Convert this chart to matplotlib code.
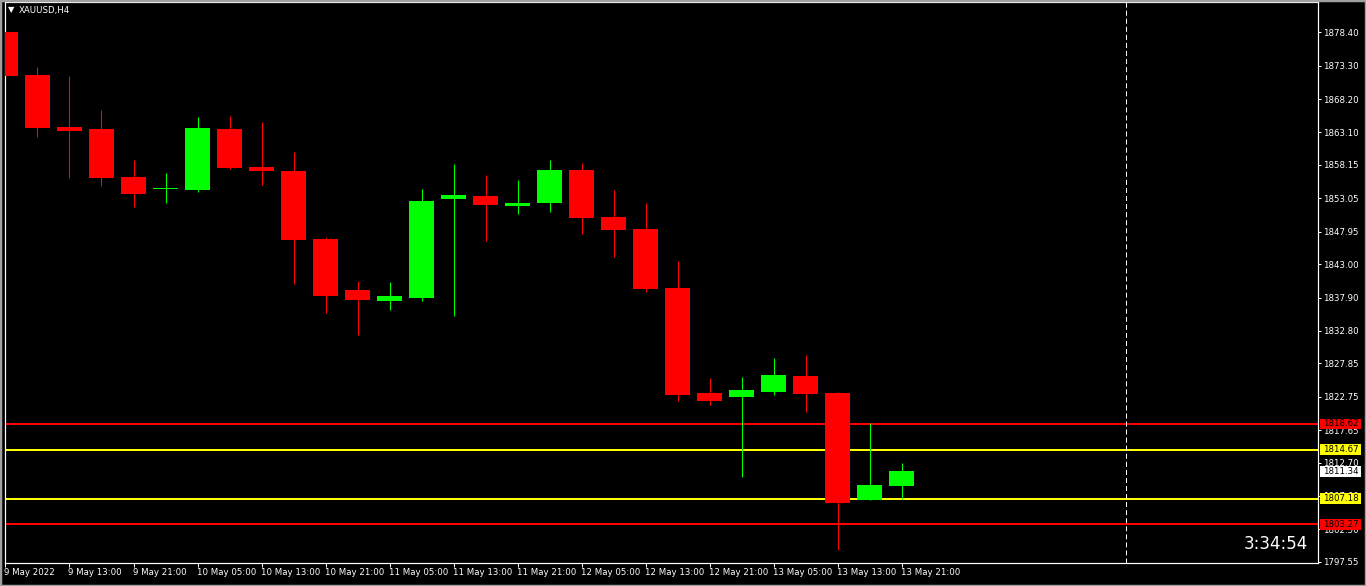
import matplotlib
matplotlib.use("Agg")
import matplotlib.pyplot as plt
import matplotlib.transforms as mtransforms
from matplotlib.patches import Rectangle
import numpy as np

# --- XAUUSD H4 candles (open, high, low, close)
opens  = [1878.45, 1871.88, 1863.94, 1863.63, 1856.30, 1854.40, 1854.36, 1863.63,
          1857.83, 1857.22, 1846.83, 1839.04, 1837.41, 1837.87, 1852.99, 1853.40,
          1851.92, 1852.38, 1857.37, 1850.19, 1848.36, 1839.40, 1823.31, 1822.75,
          1823.47, 1825.91, 1823.31, 1806.97, 1809.11]
highs  = [1878.75, 1873.10, 1871.73, 1866.53, 1858.90, 1856.91, 1865.46, 1865.62,
          1864.70, 1860.12, 1847.09, 1840.42, 1840.27, 1854.47, 1858.29, 1856.61,
          1855.84, 1858.90, 1858.44, 1854.32, 1852.33, 1843.47, 1825.61, 1825.76,
          1828.66, 1829.12, 1823.40, 1818.73, 1812.62]
lows   = [1870.70, 1862.46, 1856.19, 1854.97, 1851.77, 1852.38, 1854.06, 1857.52,
          1855.13, 1840.01, 1835.58, 1832.17, 1836.04, 1837.41, 1835.12, 1846.57,
          1850.70, 1851.00, 1847.64, 1844.13, 1838.78, 1822.14, 1821.53, 1810.49,
          1823.01, 1820.41, 1799.34, 1806.90, 1807.13]
closes = [1871.77, 1863.83, 1863.37, 1856.19, 1853.75, 1854.42, 1863.78, 1857.72,
          1857.26, 1846.73, 1838.17, 1837.56, 1838.13, 1852.64, 1853.55, 1852.07,
          1852.33, 1857.37, 1850.09, 1848.25, 1839.24, 1823.05, 1822.14, 1823.77,
          1826.06, 1823.21, 1806.52, 1809.26, 1811.34]

# time labels, one every 2 bars
xtick_bars = [0, 2, 4, 6, 8, 10, 12, 14, 16, 18, 20, 22, 24, 26, 28]
xtick_labels = ["9 May 2022", "9 May 13:00", "9 May 21:00", "10 May 05:00",
                "10 May 13:00", "10 May 21:00", "11 May 05:00", "11 May 13:00",
                "11 May 21:00", "12 May 05:00", "12 May 13:00", "12 May 21:00",
                "13 May 05:00", "13 May 13:00", "13 May 21:00"]

# price scale labels
yticks = [1878.40, 1873.30, 1868.20, 1863.10, 1858.15, 1853.05, 1847.95, 1843.00,
          1837.90, 1832.80, 1827.85, 1822.75, 1817.65, 1812.70, 1807.60, 1802.50,
          1797.55]

# horizontal levels (price, colour)
levels = [1818.62, 1814.67, 1807.18, 1803.27]
level_colors = ["#ff0000", "#ffff00", "#ffff00", "#ff0000"]
current_price = 1811.34
separator_bar = 35
timer_text = "3:34:54"

W, H = 1366, 586
DPI = 100
PX = 72.0 / DPI  # one pixel in points

plt.rcParams["lines.scale_dashes"] = False
fig = plt.figure(figsize=(W / DPI, H / DPI), dpi=DPI, facecolor="black")

# plot area in pixels: x 4.5..1318, y 2..562.5
ax = fig.add_axes([4.5 / W, (H - 562.5) / H, (1318 - 4.5) / W, (562.5 - 2) / H])
ax.set_facecolor("black")
ax.set_xlim(-0.03, 41.0)
ax.set_ylim(1797.43, 1883.03)

for s in ax.spines.values():
    s.set_color("white")
    s.set_linewidth(1.2 * PX)

# levels
for lv, col in zip(levels, level_colors):
    ax.axhline(lv, color=col, lw=2 * PX, zorder=1)

# period separator
ax.axvline(separator_bar, color="white", lw=1 * PX, dashes=(3.6, 2.2), zorder=1)

# candles
x = np.arange(len(opens))
o = np.array(opens)
c = np.array(closes)
up = c >= o
colors = np.where(up, "#00ff00", "#ff0000")
ax.vlines(x, lows, highs, colors=colors, lw=1.1 * PX, zorder=2)
body_h = np.maximum(np.abs(c - o), 0.16)
body_b = np.minimum(o, c)
ax.bar(x, body_h, bottom=body_b, width=0.78, color=colors, linewidth=0, zorder=3)

# axes ticks
ax.yaxis.tick_right()
ax.set_yticks(yticks)
ax.set_yticklabels([f"{v:.2f}" for v in yticks])
ax.tick_params(axis="y", colors="white", length=3 * PX, width=1 * PX, pad=1.5,
               labelsize=6.2, labelcolor="white")
ax.set_xticks(xtick_bars)
ax.set_xticklabels(xtick_labels, ha="left")
ax.tick_params(axis="x", colors="white", length=4 * PX, width=1 * PX, pad=1.2,
               labelsize=6.2, labelcolor="white")
for lbl in ax.get_xticklabels():
    lbl.set_transform(lbl.get_transform() + mtransforms.ScaledTranslation(-1 / DPI, 0, fig.dpi_scale_trans))

# price tags on the scale
trans = mtransforms.blended_transform_factory(ax.transAxes, ax.transData)
tag_x0 = (1320 - 4.5) / (1318 - 4.5)
tag_w = 41 / (1318 - 4.5)
tag_h = 10.5 / 6.548
tags = list(zip(levels, level_colors)) + [(current_price, "#ffffff")]
for price, col in tags:
    ax.add_patch(Rectangle((tag_x0, price - tag_h / 2), tag_w, tag_h, transform=trans,
                           facecolor=col, edgecolor="none", clip_on=False, zorder=5))
    ax.text(tag_x0 + tag_w / 2, price, f"{price:.2f}", transform=trans, ha="center",
            va="center", fontsize=6.2, color="black", clip_on=False, zorder=6)

# title with triangle
fig.text(8 / W, 1 - 10 / H, "\u25bc", fontsize=6, color="white", va="center", ha="left")
fig.text(19 / W, 1 - 10 / H, "XAUUSD,H4", fontsize=6.2, color="white", va="center", ha="left")

# countdown
fig.text(1308 / W, 1 - 544 / H, timer_text, fontsize=12, color="white", va="center",
         ha="right")

# thin grey frame of the window
fig.patches.append(Rectangle((0, 0), 1, 1, transform=fig.transFigure, fill=False,
                             edgecolor="#a0a0a0", lw=2.5))

fig.savefig("out.png", dpi=DPI, facecolor="black")
